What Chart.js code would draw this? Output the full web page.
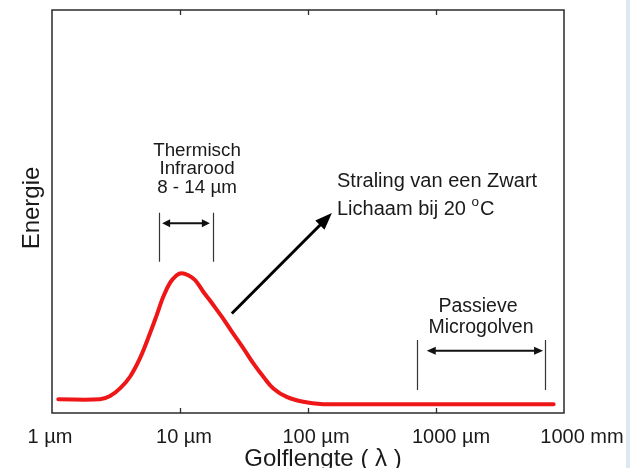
<!DOCTYPE html>
<html><head><meta charset="utf-8">
<script src="https://cdn.jsdelivr.net/npm/chart.js@4.4.1/dist/chart.umd.min.js"></script>
<style>
html,body{margin:0;padding:0;background:#fff;overflow:hidden}
#wrap{position:relative;width:630px;height:468px}
#strip{position:absolute;right:0;top:0;width:4px;height:468px;background:#dde8f4}
</style></head><body>
<div id="wrap"><canvas id="c" width="630" height="468"></canvas><div id="strip"></div></div>
<script>
// Data (wavelength in µm, relative energy 0-100)
const wavelengthUm = [1.12, 2.37, 2.84, 3.40, 4.07, 4.87, 5.83, 6.58, 7.41, 8.35, 9.42, 10.3, 11.6, 13.1, 15.2, 18.2, 21.2, 25.4, 31.2, 37.4, 44.8, 53.6, 68.2, 91.9, 132, 178, 8300];
const energy       = [3.4, 3.4, 4.2, 6.1, 9.0, 13.6, 19.8, 24.3, 28.9, 32.3, 34.2, 34.7, 34.2, 33.0, 30.1, 26.8, 23.9, 20.2, 16.1, 12.3, 9.0, 6.1, 4.0, 2.8, 2.2, 2.2, 2.2];
const tickValues = [1, 10, 100, 1000, 10000];
const tickLabels = ['1 \u00b5m', '10 \u00b5m', '100 \u00b5m', '1000 \u00b5m', '1000 mm'];
const innerTicks = [10, 100, 1000];
const xTitle = 'Golflengte ( \u03bb )';
const yTitle = 'Energie';
const thermalBand = [6.87, 18.06];     // µm, bracket of "Thermisch Infrarood"
const microwaveBand = [707, 7110];     // µm, bracket of "Passieve Microgolven"
const thermalText = ['Thermisch', 'Infrarood', '8 - 14 \u00b5m'];
const microwaveText = ['Passieve', 'Microgolven'];
const bodyText = ['Straling van een Zwart', 'Lichaam bij 20 '];

const FONT = '"Liberation Sans", Arial, Helvetica, sans-serif';
const INK = '#1a1a1a';

function arrowHead(ctx, x1, y1, x2, y2, len, half) {
  const a = Math.atan2(y2 - y1, x2 - x1);
  ctx.beginPath();
  ctx.moveTo(x2, y2);
  ctx.lineTo(x2 - len * Math.cos(a) + half * Math.sin(a), y2 - len * Math.sin(a) - half * Math.cos(a));
  ctx.lineTo(x2 - len * Math.cos(a) - half * Math.sin(a), y2 - len * Math.sin(a) + half * Math.cos(a));
  ctx.closePath();
  ctx.fill();
}
function arrowLine(ctx, x1, y1, x2, y2, lw, len, half, both) {
  const a = Math.atan2(y2 - y1, x2 - x1);
  ctx.lineWidth = lw;
  ctx.beginPath();
  ctx.moveTo(both ? x1 + (len - 1) * Math.cos(a) : x1, both ? y1 + (len - 1) * Math.sin(a) : y1);
  ctx.lineTo(x2 - (len - 1) * Math.cos(a), y2 - (len - 1) * Math.sin(a));
  ctx.stroke();
  arrowHead(ctx, x1, y1, x2, y2, len, half);
  if (both) arrowHead(ctx, x2, y2, x1, y1, len, half);
}

const decor = {
  id: 'decor',
  afterDraw(chart) {
    const ctx = chart.ctx;
    const xs = chart.scales.x, ys = chart.scales.y;
    const X = v => xs.getPixelForValue(v), Y = v => ys.getPixelForValue(v);
    const a = chart.chartArea;
    ctx.save();
    // frame
    ctx.strokeStyle = '#2a2a2a';
    ctx.lineWidth = 1.5;
    ctx.strokeRect(a.left, a.top, a.right - a.left, a.bottom - a.top);
    // inward tick marks top & bottom
    ctx.lineWidth = 1.3;
    innerTicks.forEach(v => {
      const x = Math.round(X(v)) + 0.5;
      ctx.beginPath(); ctx.moveTo(x, a.top); ctx.lineTo(x, a.top + 5); ctx.stroke();
      ctx.beginPath(); ctx.moveTo(x, a.bottom); ctx.lineTo(x, a.bottom - 5); ctx.stroke();
    });
    // tick labels
    ctx.fillStyle = INK;
    ctx.font = '20px ' + FONT;
    ctx.textAlign = 'center';
    ctx.textBaseline = 'alphabetic';
    const shift = [-2, 4, 8, 15, 18];
    tickValues.forEach((v, i) => ctx.fillText(tickLabels[i], X(v) + shift[i], 443));
    // axis titles
    ctx.font = '24px ' + FONT;
    ctx.fillText(xTitle, 323, 466);
    ctx.save();
    ctx.translate(38.5, 208);
    ctx.rotate(-Math.PI / 2);
    ctx.fillText(yTitle, 0, 0);
    ctx.restore();

    // Thermal IR annotation
    ctx.strokeStyle = '#333';
    ctx.fillStyle = '#111';
    ctx.lineWidth = 1.2;
    thermalBand.forEach(v => {
      const x = Math.round(X(v)) + 0.5;
      ctx.beginPath(); ctx.moveTo(x, 212.7); ctx.lineTo(x, 261.7); ctx.stroke();
    });
    ctx.strokeStyle = '#111';
    arrowLine(ctx, X(thermalBand[0]) + 3, 223.3, X(thermalBand[1]) - 3, 223.3, 2, 8, 4, true);
    ctx.fillStyle = INK;
    ctx.font = '18.8px ' + FONT;
    ctx.textAlign = 'center';
    ctx.fillText(thermalText[0], 197, 155.7);
    ctx.fillText(thermalText[1], 197, 174.3);
    ctx.fillText(thermalText[2], 197, 193.3);

    // Microwave annotation
    ctx.strokeStyle = '#333';
    ctx.lineWidth = 1.2;
    microwaveBand.forEach(v => {
      const x = Math.round(X(v)) + 0.5;
      ctx.beginPath(); ctx.moveTo(x, 340); ctx.lineTo(x, 390); ctx.stroke();
    });
    ctx.strokeStyle = '#111';
    ctx.fillStyle = '#111';
    arrowLine(ctx, X(microwaveBand[0]) + 10, 350.7, X(microwaveBand[1]) - 2, 350.7, 2, 9, 4, true);
    ctx.fillStyle = INK;
    ctx.font = '19.5px ' + FONT;
    ctx.fillText(microwaveText[0], 478, 311.7);
    ctx.fillText(microwaveText[1], 481, 333);

    // Black body arrow
    ctx.strokeStyle = '#000';
    ctx.fillStyle = '#000';
    arrowLine(ctx, X(25.4), Y(24.7), X(153.7), Y(49.6), 3, 17, 6.5, false);
    ctx.fillStyle = INK;
    ctx.textAlign = 'left';
    ctx.font = '20px ' + FONT;
    ctx.fillText(bodyText[0], 337, 187);
    ctx.fillText(bodyText[1], 337, 215);
    const w = ctx.measureText(bodyText[1]).width;
    ctx.font = '13.5px ' + FONT;
    ctx.fillText('o', 337 + w, 206);
    const wo = ctx.measureText('o').width;
    ctx.font = '20px ' + FONT;
    ctx.fillText('C', 337 + w + wo + 1, 215);
    ctx.restore();
  }
};

new Chart(document.getElementById('c'), {
  type: 'line',
  data: {
    datasets: [{
      data: wavelengthUm.map((w, i) => ({ x: w, y: energy[i] })),
      borderColor: 'rgb(238,22,22)',
      borderWidth: 4,
      pointRadius: 0,
      tension: 0.4,
      borderCapStyle: 'round',
      borderJoinStyle: 'round',
      fill: false
    }]
  },
  options: {
    responsive: false,
    animation: false,
    devicePixelRatio: 1,
    layout: { padding: { left: 52, right: 66, top: 10, bottom: 55 } },
    scales: {
      x: { type: 'logarithmic', min: 1, max: 10000, display: false },
      y: { type: 'linear', min: 0, max: 100, display: false }
    },
    plugins: { legend: { display: false }, tooltip: { enabled: false } }
  },
  plugins: [decor]
});
</script>
</body></html>
